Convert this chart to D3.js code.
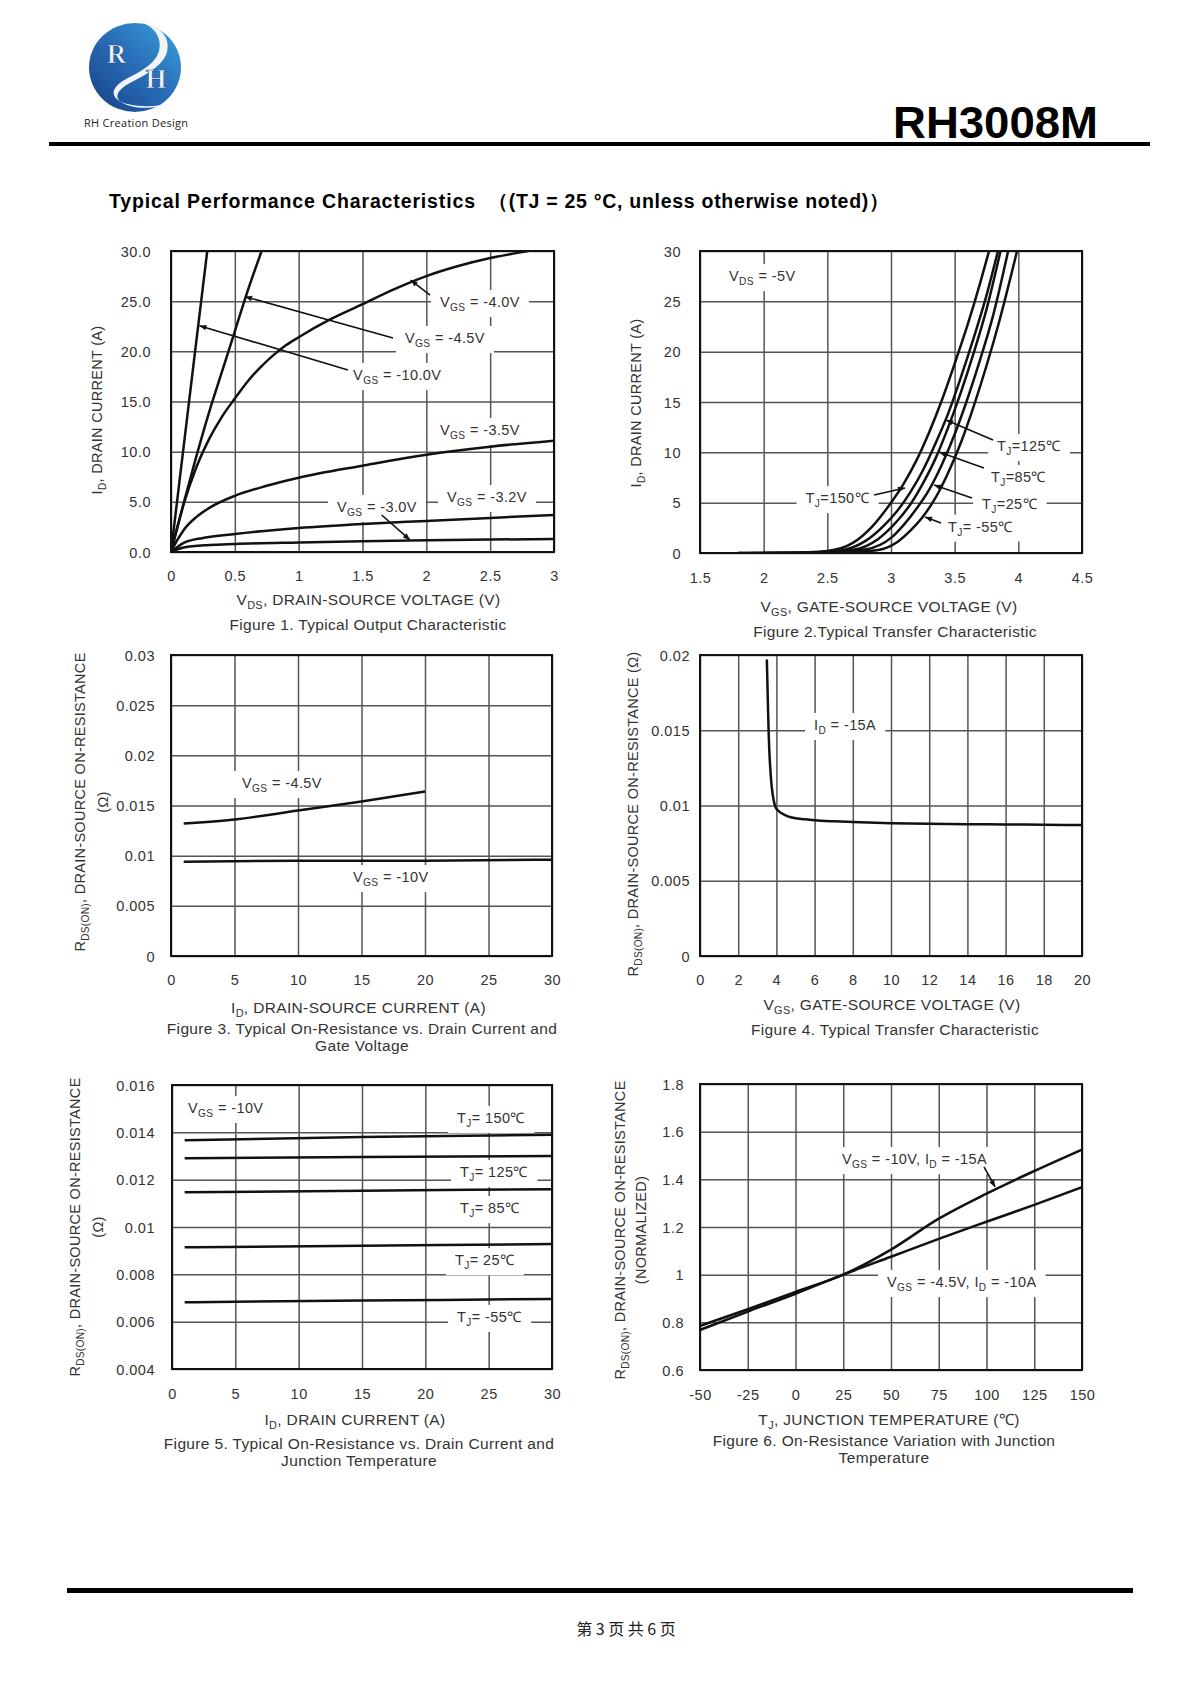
<!DOCTYPE html>
<html>
<head>
<meta charset="utf-8">
<script src="https://cdn.jsdelivr.net/npm/d3@7.9.0/dist/d3.min.js"></script>
<style>
  body { margin: 0; background: #fff; }
  svg { display: block; font-family: "Liberation Sans", Arial, sans-serif; }
</style>
</head>
<body>
<svg id="page" width="1191" height="1684"></svg>
<script>
// ---------- Figure 1: output characteristic (VDS in V, ID in A) ----------
const fig1XTicks = [0, 0.5, 1, 1.5, 2, 2.5, 3];
const fig1YTicks = [0, 5, 10, 15, 20, 25, 30];
const f1Vgs100 = [[0, 0], [0.1, 10.6], [0.2, 21.2], [0.284, 30]];
const f1Vgs45 = [[0, 0], [0.1, 4.9], [0.2, 9.6], [0.3, 14], [0.4, 18], [0.5, 22], [0.6, 26], [0.71, 30]];
const f1Vgs40 = [[0, 0], [0.05, 2.5], [0.1, 4.8], [0.2, 8.5], [0.3, 11.3], [0.4, 13.5], [0.5, 15.3], [0.6, 17],
  [0.7, 18.4], [0.8, 19.6], [0.9, 20.6], [1.0, 21.4], [1.25, 23.2], [1.5, 24.7], [1.75, 26.2], [2.0, 27.5],
  [2.25, 28.5], [2.5, 29.3], [2.8, 30]];
const f1Vgs35 = [[0, 0], [0.05, 1.2], [0.1, 2.2], [0.2, 3.5], [0.3, 4.4], [0.5, 5.6], [0.75, 6.6], [1, 7.4],
  [1.5, 8.6], [2, 9.7], [2.5, 10.5], [3, 11.1]];
const f1Vgs32 = [[0, 0], [0.1, 0.9], [0.25, 1.4], [0.5, 1.8], [1, 2.4], [1.5, 2.8], [2, 3.1], [2.5, 3.4], [3, 3.7]];
const f1Vgs30 = [[0, 0], [0.1, 0.45], [0.3, 0.7], [0.5, 0.8], [1, 0.95], [1.5, 1.07], [2, 1.16], [2.5, 1.24], [3, 1.3]];

// ---------- Figure 2: transfer characteristic (VGS in V, ID in A) ----------
const fig2XTicks = [1.5, 2, 2.5, 3, 3.5, 4, 4.5];
const fig2YTicks = [0, 5, 10, 15, 20, 25, 30];
const f2Tj150 = [[1.8, 0], [2.2, 0.02], [2.5, 0.2], [2.7, 1], [2.85, 2.6], [3.0, 5], [3.1, 6.9], [3.2, 9.2],
  [3.3, 12], [3.4, 15.2], [3.5, 18.8], [3.6, 22.6], [3.7, 26.8], [3.77, 30]];
const f2Tj125 = [[1.8, 0], [2.3, 0.02], [2.6, 0.25], [2.8, 1.2], [2.95, 2.8], [3.05, 4.2], [3.15, 6], [3.25, 8.2],
  [3.35, 10.9], [3.45, 13.9], [3.55, 17.5], [3.65, 21.4], [3.75, 25.6], [3.84, 30]];
const f2Tj85 = [[1.9, 0], [2.4, 0.02], [2.7, 0.3], [2.9, 1.4], [3.05, 3.2], [3.15, 4.8], [3.25, 6.9], [3.35, 9.4],
  [3.45, 12.5], [3.55, 16], [3.65, 19.9], [3.75, 24.2], [3.86, 30]];
const f2Tj25 = [[2.0, 0], [2.5, 0.03], [2.8, 0.35], [3.0, 1.5], [3.1, 2.8], [3.2, 4.4], [3.3, 6.3], [3.4, 8.8],
  [3.5, 11.8], [3.6, 15.3], [3.7, 19.2], [3.8, 23.5], [3.92, 30]];
const f2TjM55 = [[2.2, 0], [2.6, 0.02], [2.9, 0.3], [3.05, 1.1], [3.15, 2.2], [3.25, 3.6], [3.35, 5.5], [3.45, 8],
  [3.55, 11], [3.65, 14.6], [3.75, 18.6], [3.85, 23], [3.99, 30]];

// ---------- Figure 3: RDS(on) vs ID and VGS ----------
const fig3XTicks = [0, 5, 10, 15, 20, 25, 30];
const fig3YTicks = [0, 0.005, 0.01, 0.015, 0.02, 0.025, 0.03];
const f3Vgs45 = [[1, 0.0132], [5, 0.0136], [10, 0.0145], [15, 0.0154], [20, 0.0164]];
const f3Vgs10 = [[1, 0.0094], [10, 0.0095], [20, 0.0095], [30, 0.0096]];

// ---------- Figure 4: RDS(on) vs VGS ----------
const fig4XTicks = [0, 2, 4, 6, 8, 10, 12, 14, 16, 18, 20];
const fig4YTicks = [0, 0.005, 0.01, 0.015, 0.02];
const f4Id15 = [[3.5, 0.0197], [3.55, 0.017], [3.6, 0.0146], [3.65, 0.0131], [3.7, 0.0121], [3.75, 0.0113],
  [3.85, 0.0104], [3.95, 0.0099], [4.1, 0.00965], [4.4, 0.0094], [4.8, 0.0092], [5.5, 0.00908], [6, 0.00902],
  [7, 0.00895], [8, 0.0089], [10, 0.00882], [12, 0.00878], [14, 0.00876], [16, 0.00874], [18, 0.00872], [20, 0.0087]];

// ---------- Figure 5: RDS(on) vs ID and TJ ----------
const fig5XTicks = [0, 5, 10, 15, 20, 25, 30];
const fig5YTicks = [0.004, 0.006, 0.008, 0.01, 0.012, 0.014, 0.016];
const f5Tj150 = [[1, 0.01367], [15, 0.0138], [30, 0.0139]];
const f5Tj125 = [[1, 0.0129], [15, 0.01296], [30, 0.0130]];
const f5Tj85 = [[1, 0.01147], [15, 0.01153], [30, 0.0116]];
const f5Tj25 = [[1, 0.00914], [15, 0.00921], [30, 0.00928]];
const f5TjM55 = [[1, 0.00682], [15, 0.00689], [30, 0.00696]];

// ---------- Figure 6: normalized RDS(on) vs TJ ----------
const fig6XTicks = [-50, -25, 0, 25, 50, 75, 100, 125, 150];
const fig6YTicks = [0.6, 0.8, 1, 1.2, 1.4, 1.6, 1.8];
const f6Vgs10 = [[-50, 0.785], [-25, 0.855], [0, 0.928], [25, 1.0], [50, 1.105], [75, 1.235], [100, 1.34], [125, 1.435], [150, 1.525]];
const f6Vgs45 = [[-50, 0.768], [-25, 0.845], [0, 0.92], [25, 1.0], [50, 1.075], [75, 1.15], [100, 1.222], [125, 1.293], [150, 1.367]];

const svg = d3.select("#page");
const INK = "#333";
const GRID = "#555";
const TICK_FS = 14.5, LABEL_FS = 14.5, TITLE_FS = 15.5;

svg.append("rect").attr("width", 1191).attr("height", 1684).attr("fill", "#fff");
const defs = svg.append("defs");
defs.append("marker").attr("id", "arrow").attr("viewBox", "0 0 10 10")
  .attr("refX", 10).attr("refY", 5).attr("markerWidth", 9).attr("markerHeight", 7)
  .attr("markerUnits", "userSpaceOnUse").attr("orient", "auto")
  .append("path").attr("d", "M0,1 L10,5 L0,9 Z").attr("fill", "#111");

// text with _{sub} markup
function rich(sel, str, size) {
  let shift = 0;
  str.split(/(_\{[^}]*\})/).filter(s => s.length).forEach(s => {
    if (s.startsWith("_{")) {
      sel.append("tspan").attr("font-size", size * 0.7).attr("dy", size * 0.28).text(s.slice(2, -1));
      shift = size * 0.28;
    } else {
      const t = sel.append("tspan").text(s);
      if (shift) { t.attr("dy", -shift); shift = 0; }
    }
  });
  return sel;
}

let clipId = 0;
function drawChart(c) {
  const g = svg.append("g");
  const x = d3.scaleLinear().domain(c.xDomain).range([c.left, c.right]);
  const y = d3.scaleLinear().domain(c.yDomain).range([c.bottom, c.top]);
  const w = c.right - c.left, h = c.bottom - c.top;

  // grid
  const gx = g.append("g").attr("transform", `translate(0,${c.bottom})`)
    .call(d3.axisBottom(x).tickValues(c.xTicks).tickSize(-h).tickFormat(""));
  const gy = g.append("g").attr("transform", `translate(${c.left},0)`)
    .call(d3.axisLeft(y).tickValues(c.yTicks).tickSize(-w).tickFormat(""));
  [gx, gy].forEach(a => {
    a.select(".domain").remove();
    a.selectAll("line").attr("stroke", GRID).attr("stroke-width", 1.5);
  });

  const boxG = g.append("g");
  const id = "clip" + (clipId++);
  g.append("clipPath").attr("id", id).append("rect")
    .attr("x", c.left).attr("y", c.top).attr("width", w).attr("height", h);
  const curveG = g.append("g").attr("clip-path", `url(#${id})`);
  const arrowG = g.append("g");
  const textG = g.append("g");

  const line = d3.line().x(d => x(d[0])).y(d => y(d[1])).curve(d3.curveMonotoneX);
  c.series.forEach(s => {
    curveG.append("path").attr("d", line(s)).attr("fill", "none")
      .attr("stroke", "#111").attr("stroke-width", 2.5).attr("stroke-linejoin", "round");
  });

  (c.arrows || []).forEach(a => {
    arrowG.append("line")
      .attr("x1", x(a.from[0])).attr("y1", y(a.from[1]))
      .attr("x2", x(a.to[0])).attr("y2", y(a.to[1]))
      .attr("stroke", "#111").attr("stroke-width", 1.6).attr("marker-end", "url(#arrow)");
  });

  g.append("rect").attr("x", c.left).attr("y", c.top).attr("width", w).attr("height", h)
    .attr("fill", "none").attr("stroke", "#111").attr("stroke-width", 2);

  (c.labels || []).forEach(l => {
    const t = textG.append("text").attr("x", x(l.at[0])).attr("y", y(l.at[1]) + 5)
      .attr("text-anchor", l.anchor || "start").attr("font-size", LABEL_FS)
      .attr("letter-spacing", 0.4).attr("fill", INK);
    rich(t, l.text, LABEL_FS);
    const b = t.node().getBBox();
    boxG.append("rect").attr("x", b.x - 9).attr("y", b.y - 4)
      .attr("width", b.width + 18).attr("height", b.height + 8).attr("fill", "#fff");
  });

  // tick labels
  const tx = g.append("g").attr("transform", `translate(0,${c.bottom})`)
    .call(d3.axisBottom(x).tickValues(c.xTicks).tickSize(0).tickFormat(c.xFmt || String));
  const ty = g.append("g").attr("transform", `translate(${c.left},0)`)
    .call(d3.axisLeft(y).tickValues(c.yTicks).tickSize(0).tickFormat(c.yFmt || String));
  [tx, ty].forEach(a => {
    a.select(".domain").remove();
    a.attr("font-family", null).attr("font-size", null);
    a.selectAll("text").attr("fill", INK).attr("font-size", TICK_FS)
      .attr("letter-spacing", 0.5).attr("dy", "0.35em");
  });
  tx.selectAll("text").attr("y", c.xLabelY - c.bottom);
  ty.selectAll("text").attr("x", c.yLabelX - c.left);

  // axis titles
  rich(g.append("text").attr("x", (c.left + c.right) / 2 + (c.xTitleDx || 0)).attr("y", c.xTitleY + 5.5)
    .attr("text-anchor", "middle").attr("font-size", TITLE_FS).attr("letter-spacing", 0.35)
    .attr("fill", INK), c.xTitle, TITLE_FS);
  c.yTitle.forEach(([lx, str]) => {
    rich(g.append("text").attr("transform", `translate(${lx + 5},${c.yTitleY}) rotate(-90)`)
      .attr("text-anchor", "middle").attr("font-size", 14.5).attr("letter-spacing", 0.3)
      .attr("fill", INK), str, 14.5);
  });
  c.caption.forEach(([cy, str]) => {
    g.append("text").attr("x", c.captionX).attr("y", cy + 5.5).attr("text-anchor", "middle")
      .attr("font-size", TITLE_FS).attr("letter-spacing", 0.35).attr("fill", INK).text(str);
  });
}

// ---------- page header ----------
const grad = defs.append("linearGradient").attr("id", "logoGrad")
  .attr("x1", "0").attr("y1", "1").attr("x2", "1").attr("y2", "0");
grad.append("stop").attr("offset", "0%").attr("stop-color", "#173f86");
grad.append("stop").attr("offset", "55%").attr("stop-color", "#2a70ba");
grad.append("stop").attr("offset", "100%").attr("stop-color", "#3aa2dc");
svg.append("ellipse").attr("cx", 135).attr("cy", 67.5).attr("rx", 46).attr("ry", 44.5).attr("fill", "url(#logoGrad)");
svg.append("path")
  .attr("d", "M144,23 C162,26 172,40 166,55 C160,68 143,76 130,83 C117,90 114,97 121,102 C131,109 154,110 174,103 C152,108 128,107 118,100 C110,94 113,86 126,79 C142,71 156,63 159,51 C162,39 156,29 144,23 Z")
  .attr("fill", "#f1f4f8");
[["R", 116.5, 63], ["H", 156, 88]].forEach(([ch, lx, ly]) => {
  svg.append("text").attr("x", lx).attr("y", ly).attr("text-anchor", "middle")
    .attr("font-family", "'Liberation Serif', serif").attr("font-size", 27).attr("font-weight", "bold")
    .attr("fill", "#eef3f9").attr("stroke", "#1f4c8c").attr("stroke-width", 0.7).text(ch);
});
svg.append("text").attr("x", 84).attr("y", 127).attr("font-family", "'Open Sans', sans-serif")
  .attr("font-size", 11).attr("fill", "#222").attr("textLength", 104).text("RH Creation Design");
svg.append("text").attr("x", 893).attr("y", 138).attr("font-size", 44).attr("font-weight", "bold")
  .attr("fill", "#000").attr("textLength", 205).attr("lengthAdjust", "spacingAndGlyphs").text("RH3008M");
svg.append("rect").attr("x", 49).attr("y", 142).attr("width", 1101).attr("height", 4).attr("fill", "#000");

svg.append("text").attr("x", 109).attr("y", 208).attr("font-size", 19.5).attr("font-weight", "bold")
  .attr("fill", "#000").attr("textLength", 366).text("Typical Performance Characteristics");
svg.append("text").attr("x", 488).attr("y", 208).attr("font-size", 19.5).attr("font-weight", "bold")
  .attr("fill", "#000").attr("textLength", 401).text("（(TJ = 25 °C, unless otherwise noted)）");

// ---------- charts ----------
drawChart({
  left: 171, right: 554, top: 251, bottom: 552, xDomain: [0, 3], yDomain: [0, 30],
  xTicks: fig1XTicks, yTicks: fig1YTicks, yFmt: d => d.toFixed(1),
  xLabelY: 576, yLabelX: 151,
  series: [f1Vgs100, f1Vgs45, f1Vgs40, f1Vgs35, f1Vgs32, f1Vgs30],
  labels: [
    { at: [2.107, 24.92], text: "V_{GS} = -4.0V" },
    { at: [1.833, 21.33], text: "V_{GS} = -4.5V" },
    { at: [1.426, 17.64], text: "V_{GS} = -10.0V" },
    { at: [2.107, 12.16], text: "V_{GS} = -3.5V" },
    { at: [2.162, 5.48], text: "V_{GS} = -3.2V" },
    { at: [1.30, 4.49], text: "V_{GS} = -3.0V" }
  ],
  arrows: [
    { from: [2.029, 25.6], to: [1.877, 27.1] },
    { from: [1.739, 21.33], to: [0.580, 25.45] },
    { from: [1.386, 18.14], to: [0.222, 22.56] },
    { from: [1.650, 3.69], to: [1.872, 1.2] }
  ],
  xTitle: "V_{DS}, DRAIN-SOURCE VOLTAGE (V)", xTitleY: 599, xTitleDx: 6,
  yTitle: [[97, "I_{D}, DRAIN CURRENT (A)"]], yTitleY: 410,
  captionX: 368, caption: [[624.5, "Figure 1. Typical Output Characteristic"]]
});

drawChart({
  left: 700, right: 1082, top: 251, bottom: 553, xDomain: [1.5, 4.5], yDomain: [0, 30],
  xTicks: fig2XTicks, yTicks: fig2YTicks,
  xLabelY: 578, yLabelX: 681,
  series: [f2Tj150, f2Tj125, f2Tj85, f2Tj25, f2TjM55],
  labels: [
    { at: [1.728, 27.5], text: "V_{DS} = -5V" },
    { at: [3.832, 10.63], text: "T_{J}=125℃" },
    { at: [3.785, 7.55], text: "T_{J}=85℃" },
    { at: [3.715, 4.87], text: "T_{J}=25℃" },
    { at: [3.448, 2.63], text: "T_{J}= -55℃" },
    { at: [2.827, 5.46], text: "T_{J}=150℃", anchor: "end" }
  ],
  arrows: [
    { from: [3.801, 11.22], to: [3.432, 13.21] },
    { from: [3.730, 8.44], to: [3.377, 10.03] },
    { from: [3.636, 5.46], to: [3.338, 6.75] },
    { from: [3.393, 2.98], to: [3.267, 3.58] },
    { from: [2.867, 5.76], to: [3.110, 6.46] }
  ],
  xTitle: "V_{GS}, GATE-SOURCE VOLTAGE (V)", xTitleY: 606, xTitleDx: -2,
  yTitle: [[636, "I_{D}, DRAIN CURRENT (A)"]], yTitleY: 403,
  captionX: 895, caption: [[631, "Figure 2.Typical Transfer Characteristic"]]
});

drawChart({
  left: 171, right: 552, top: 655, bottom: 956, xDomain: [0, 30], yDomain: [0, 0.03],
  xTicks: fig3XTicks, yTicks: fig3YTicks,
  xLabelY: 980, yLabelX: 155,
  series: [f3Vgs45, f3Vgs10],
  labels: [
    { at: [5.59, 0.01724], text: "V_{GS} = -4.5V" },
    { at: [14.33, 0.00787], text: "V_{GS} = -10V" }
  ],
  xTitle: "I_{D}, DRAIN-SOURCE CURRENT (A)", xTitleY: 1007, xTitleDx: -3,
  yTitle: [[80, "R_{DS(ON)}, DRAIN-SOURCE ON-RESISTANCE"], [103, "(Ω)"]], yTitleY: 802,
  captionX: 362, caption: [[1028, "Figure 3. Typical On-Resistance vs. Drain Current and"], [1045, "Gate Voltage"]]
});

drawChart({
  left: 700, right: 1082, top: 655, bottom: 956, xDomain: [0, 20], yDomain: [0, 0.02],
  xTicks: fig4XTicks, yTicks: fig4YTicks,
  xLabelY: 980, yLabelX: 690,
  series: [f4Id15],
  labels: [{ at: [5.97, 0.01535], text: "I_{D} = -15A" }],
  xTitle: "V_{GS}, GATE-SOURCE VOLTAGE (V)", xTitleY: 1004, xTitleDx: 1,
  yTitle: [[633, "R_{DS(ON)}, DRAIN-SOURCE ON-RESISTANCE (Ω)"]], yTitleY: 814,
  captionX: 895, caption: [[1029, "Figure 4. Typical Transfer Characteristic"]]
});

drawChart({
  left: 172, right: 552, top: 1085, bottom: 1369, xDomain: [0, 30], yDomain: [0.004, 0.016],
  xTicks: fig5XTicks, yTicks: fig5YTicks,
  xLabelY: 1394, yLabelX: 155,
  series: [f5Tj150, f5Tj125, f5Tj85, f5Tj25, f5TjM55],
  labels: [
    { at: [1.26, 0.01503], text: "V_{GS} = -10V" },
    { at: [22.5, 0.01461], text: "T_{J}= 150℃" },
    { at: [22.74, 0.01232], text: "T_{J}= 125℃" },
    { at: [22.74, 0.0108], text: "T_{J}= 85℃" },
    { at: [22.34, 0.0086], text: "T_{J}= 25℃" },
    { at: [22.5, 0.0062], text: "T_{J}= -55℃" }
  ],
  xTitle: "I_{D}, DRAIN CURRENT (A)", xTitleY: 1419, xTitleDx: -7,
  yTitle: [[75, "R_{DS(ON)}, DRAIN-SOURCE ON-RESISTANCE"], [98, "(Ω)"]], yTitleY: 1227,
  captionX: 359, caption: [[1443, "Figure 5. Typical On-Resistance vs. Drain Current and"], [1460, "Junction Temperature"]]
});

drawChart({
  left: 700, right: 1082, top: 1084, bottom: 1370, xDomain: [-50, 150], yDomain: [0.6, 1.8],
  xTicks: fig6XTicks, yTicks: fig6YTicks,
  xLabelY: 1395, yLabelX: 684,
  series: [f6Vgs10, f6Vgs45],
  labels: [
    { at: [24.3, 1.485], text: "V_{GS} = -10V, I_{D} = -15A" },
    { at: [47.9, 0.969], text: "V_{GS} = -4.5V, I_{D} = -10A" }
  ],
  arrows: [{ from: [98.7, 1.452], to: [104.5, 1.368] }],
  xTitle: "T_{J}, JUNCTION TEMPERATURE (℃)", xTitleY: 1419, xTitleDx: -2,
  yTitle: [[620, "R_{DS(ON)}, DRAIN-SOURCE ON-RESISTANCE"], [641, "(NORMALIZED)"]], yTitleY: 1230,
  captionX: 884, caption: [[1440.5, "Figure 6. On-Resistance Variation with Junction"], [1457.5, "Temperature"]]
});

// ---------- footer ----------
svg.append("rect").attr("x", 67).attr("y", 1588).attr("width", 1066).attr("height", 5).attr("fill", "#000");
svg.append("text").attr("x", 626).attr("y", 1635).attr("text-anchor", "middle")
  .attr("font-family", "'Noto Sans CJK SC', sans-serif").attr("font-size", 16).attr("fill", "#222")
  .text("第 3 页 共 6 页");
</script>
</body>
</html>
